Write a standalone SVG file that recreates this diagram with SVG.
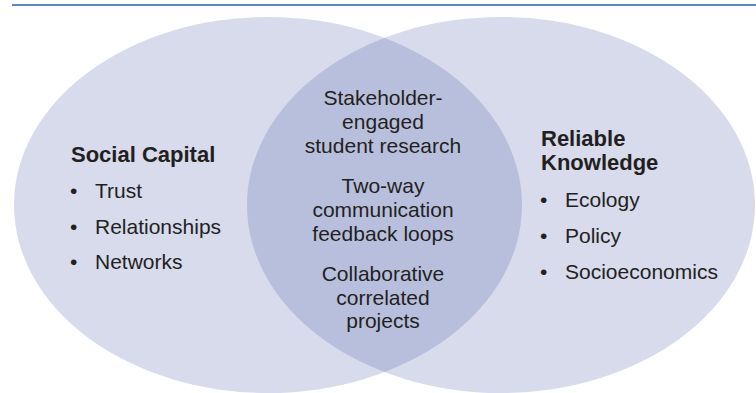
<svg xmlns="http://www.w3.org/2000/svg" width="756" height="393" viewBox="0 0 756 393">
<style>
.set{fill:#4d5fab;fill-opacity:0.225}
.t{font-family:"Liberation Sans",Arial,sans-serif;font-size:21px;fill:#231f20}
.h{font-family:"Liberation Sans",Arial,sans-serif;font-size:22px;font-weight:bold;fill:#231f20}
.c{text-anchor:middle}
</style>
<rect width="756" height="393" fill="#ffffff"/>
<line x1="12" y1="5" x2="756" y2="5" stroke="#2a5ea8" stroke-width="1.6"/>
<g id="social-capital">
<ellipse class="set" cx="268" cy="205" rx="254" ry="188"/>
<text class="h" x="71" y="162">Social Capital</text>
<text class="t" x="70" y="198">•</text><text class="t" x="95" y="198">Trust</text>
<text class="t" x="70" y="234">•</text><text class="t" x="95" y="234">Relationships</text>
<text class="t" x="70" y="269">•</text><text class="t" x="95" y="269">Networks</text>
</g>
<g id="reliable-knowledge">
<ellipse class="set" cx="501" cy="205" rx="254" ry="188"/>
<text class="h" x="541" y="146">Reliable</text>
<text class="h" x="541" y="170">Knowledge</text>
<text class="t" x="540" y="207">•</text><text class="t" x="565" y="207">Ecology</text>
<text class="t" x="540" y="243">•</text><text class="t" x="565" y="243">Policy</text>
<text class="t" x="540" y="279">•</text><text class="t" x="565" y="279">Socioeconomics</text>
</g>
<g id="overlap">
<text class="t c" x="383" y="105">Stakeholder-</text>
<text class="t c" x="383" y="129">engaged</text>
<text class="t c" x="383" y="153">student research</text>
<text class="t c" x="383" y="193">Two-way</text>
<text class="t c" x="383" y="217">communication</text>
<text class="t c" x="383" y="241">feedback loops</text>
<text class="t c" x="383" y="281">Collaborative</text>
<text class="t c" x="383" y="305">correlated</text>
<text class="t c" x="383" y="328">projects</text>
</g>
<g id="connectors"/>
</svg>
